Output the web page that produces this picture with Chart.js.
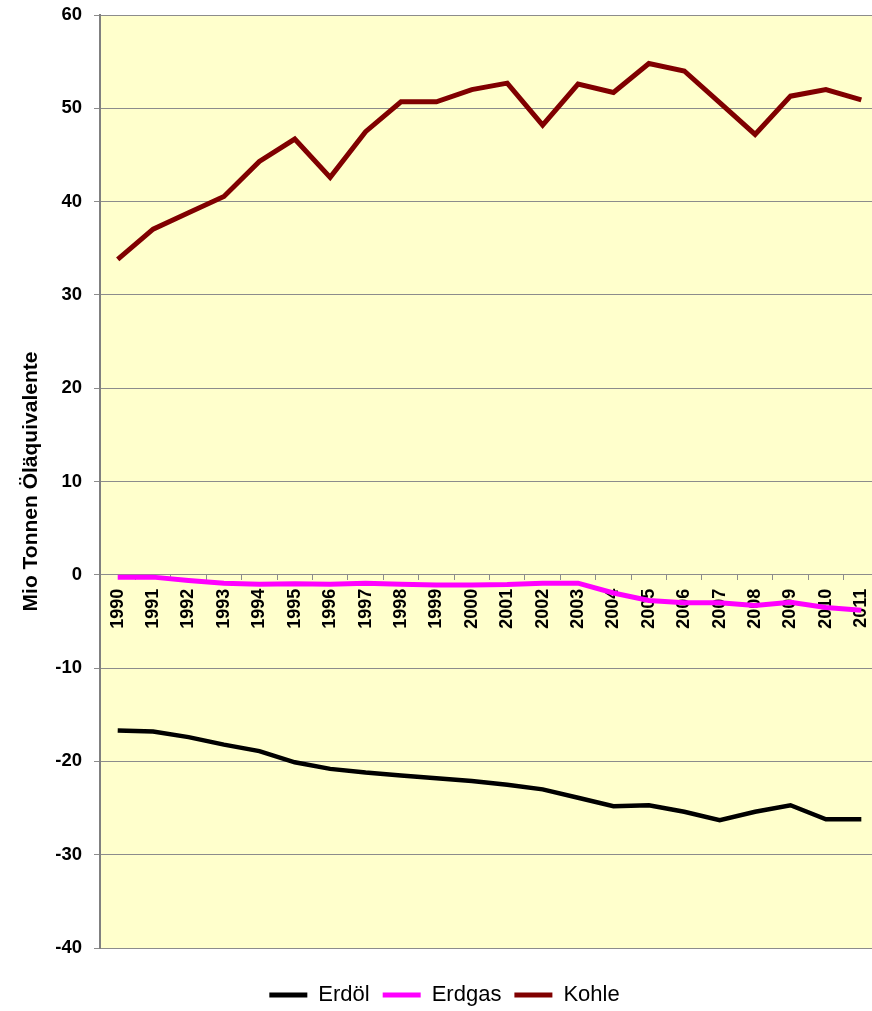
<!DOCTYPE html>
<html>
<head>
<meta charset="utf-8">
<script src="https://cdn.jsdelivr.net/npm/chart.js@4/dist/chart.umd.min.js"></script>
<style>
html, body { margin: 0; padding: 0; overflow: hidden; background: #ffffff; }
#wrap { width: 892px; height: 1016px; position: relative; }
</style>
</head>
<body>
<div id="wrap"><canvas id="c" width="892" height="1016"></canvas></div>
<script>
const years = ['1990','1991','1992','1993','1994','1995','1996','1997','1998','1999','2000','2001','2002','2003','2004','2005','2006','2007','2008','2009','2010','2011'];
const erdoel = [-16.7,-16.8,-17.4,-18.2,-18.9,-20.1,-20.8,-21.2,-21.5,-21.8,-22.1,-22.5,-23.0,-23.9,-24.8,-24.7,-25.4,-26.3,-25.4,-24.7,-26.2,-26.2];
const erdgas = [-0.25,-0.25,-0.6,-0.9,-1.0,-0.95,-1.0,-0.9,-1.0,-1.1,-1.1,-1.05,-0.9,-0.9,-1.95,-2.75,-3.0,-3.0,-3.3,-2.95,-3.5,-3.8];
const kohle = [33.8,37.05,38.8,40.55,44.3,46.7,42.6,47.5,50.7,50.7,52.0,52.7,48.2,52.6,51.7,54.8,54.0,50.6,47.2,51.3,52.0,50.9];
const yMin = -40, yMax = 60, yStep = 10;
const yTitle = 'Mio Tonnen Öläquivalente';

const plotBg = {
  id: 'plotBg',
  beforeDraw(chart) {
    const {ctx, chartArea: a} = chart;
    ctx.save();
    ctx.fillStyle = '#FFFFCC';
    ctx.fillRect(a.left, a.top, a.right - a.left, a.bottom - a.top);
    ctx.restore();
  }
};

const FONT = "'Liberation Sans', Arial, sans-serif";

new Chart(document.getElementById('c'), {
  type: 'line',
  data: {
    labels: years,
    datasets: [
      { label: 'Erdöl', data: erdoel, borderColor: '#000000', backgroundColor: '#000000', borderWidth: 4.5, pointRadius: 0, tension: 0 },
      { label: 'Erdgas', data: erdgas, borderColor: '#FF00FF', backgroundColor: '#FF00FF', borderWidth: 5, pointRadius: 0, tension: 0 },
      { label: 'Kohle', data: kohle, borderColor: '#800000', backgroundColor: '#800000', borderWidth: 5, pointRadius: 0, tension: 0 }
    ]
  },
  options: {
    responsive: false,
    animation: false,
    layout: { padding: { top: 15, left: 0, right: 3, bottom: 0 } },
    plugins: {
      tooltip: { enabled: false },
      legend: {
        position: 'bottom',
        title: { display: true, text: '', font: { size: 1, lineHeight: 1 }, padding: { top: 22, bottom: 0 } },
        labels: {
          boxWidth: 38, boxHeight: 5, padding: 13,
          color: '#000000',
          font: { family: FONT, size: 22 },
          generateLabels: (chart) => Chart.defaults.plugins.legend.labels.generateLabels(chart).map(l => Object.assign(l, { lineWidth: 0 }))
        }
      }
    },
    scales: {
      x: {
        type: 'category',
        position: { y: 0 },
        offset: true,
        grid: { offset: true, drawOnChartArea: false, drawTicks: true, tickLength: 5, color: '#8c8c8c' },
        border: { display: true, color: '#8c8c8c', width: 1 },
        ticks: {
          autoSkip: false, minRotation: 90, maxRotation: 90, padding: 9,
          color: '#000000', font: { family: FONT, size: 18, weight: 'bold' }
        }
      },
      y: {
        position: 'left',
        min: yMin, max: yMax,
        afterFit: (scale) => { scale.width = 100; scale.paddingTop = 0; scale.paddingBottom = 0; },
        grid: { color: '#8c8c8c', tickLength: 6, lineWidth: 1 },
        border: { display: true, color: '#808080', width: 2 },
        ticks: {
          stepSize: yStep, padding: 12,
          color: '#000000', font: { family: FONT, size: 18.5, weight: 'bold' }
        },
        title: {
          display: true, text: yTitle, color: '#000000',
          font: { family: FONT, size: 21, weight: 'bold', lineHeight: 1.2 },
          padding: { top: 19, bottom: 0 }
        }
      }
    }
  },
  plugins: [plotBg]
});
</script>
</body>
</html>
